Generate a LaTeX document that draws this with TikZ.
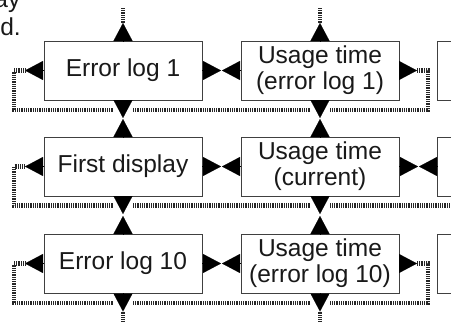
\documentclass[tikz,border=0pt]{standalone}
\usepackage{fontspec}
\setmainfont{Liberation Sans}
\usetikzlibrary{arrows.meta}
\begin{document}
\begin{tikzpicture}[x=1pt,y=-1pt,
  box/.style={draw=black!75, line width=0.9pt, fill=white, minimum width=158pt,
    minimum height=59pt, inner sep=0pt, align=center,
    font=\fontsize{24.5}{26}\selectfont, text=black!90},
  tri/.style={-{Triangle[length=18pt,width=19pt]}, line width=0.1pt, black},
  hatch/.style={line width=4.5pt, dash pattern=on 0.7pt off 1.1pt, black!85},
  frag/.style={anchor=base east, inner sep=0pt, font=\fontsize{24.5}{26}\selectfont, text=black!90}
]
\useasboundingbox (0,0) rectangle (451,324);

% text fragments
\node[frag] (t1) at (20.5,7) {ay};
\node[frag] (t2) at (21,35) {d.};

% boxes
\node[box] (e1)  at (123,70.5)  {Error log 1};
\node[box] (u1)  at (320,70.5)  {Usage time\\(error log 1)};
\node[box] (r1)  at (516,70.5)  {};
\node[box] (fd)  at (123,166.5) {First display};
\node[box] (uc)  at (320,166.5) {Usage time\\(current)};
\node[box] (r2)  at (516,166.5) {};
\node[box] (e10) at (123,263.5) {Error log 10};
\node[box] (u10) at (320,263.5) {Usage time\\(error log 10)};
\node[box] (r3)  at (516,263.5) {};

% arrow tip coordinates
\coordinate (e1N) at (123,23);   \coordinate (u1N) at (320,23);
\coordinate (e1W) at (25,70.5);  \coordinate (e1E) at (221,70.5);
\coordinate (u1W) at (222,70.5); \coordinate (u1E) at (417,70.5);
\coordinate (e1S) at (123,118);  \coordinate (u1S) at (320,118);
\coordinate (fdN) at (123,119);  \coordinate (ucN) at (320,119);
\coordinate (fdW) at (25,166.5); \coordinate (fdE) at (221,166.5);
\coordinate (ucW) at (222,166.5);\coordinate (ucE) at (418,166.5);
\coordinate (r2W) at (419,166.5);
\coordinate (fdS) at (123,214);  \coordinate (ucS) at (320,214);
\coordinate (e10N) at (123,216); \coordinate (u10N) at (320,216);
\coordinate (e10W) at (25,263.5);\coordinate (e10E) at (221,263.5);
\coordinate (u10W) at (222,263.5);\coordinate (u10E) at (417,263.5);
\coordinate (e10S) at (123,311.5);\coordinate (u10S) at (320,311.5);

% arrow triangles
\foreach \b/\t in {e1.north/e1N, u1.north/u1N, e1.west/e1W, e1.east/e1E,
  u1.west/u1W, u1.east/u1E, e1.south/e1S, u1.south/u1S, fd.north/fdN, uc.north/ucN,
  fd.west/fdW, fd.east/fdE, uc.west/ucW, uc.east/ucE, r2.west/r2W,
  fd.south/fdS, uc.south/ucS, e10.north/e10N, u10.north/u10N,
  e10.west/e10W, e10.east/e10E, u10.west/u10W, u10.east/u10E,
  e10.south/e10S, u10.south/u10S}
  \draw[tri] (\b) -- (\t);

% hatched connector coordinates
\coordinate (topA) at (123,7);  \coordinate (topB) at (320,7);
\coordinate (botA) at (123,322); \coordinate (botB) at (320,322);
\foreach \r/\y in {1/110, 2/205.5, 3/303}{
  \coordinate (cl\r) at (14,\y);
  \coordinate (ga\r) at (113,\y);
  \coordinate (gb\r) at (133,\y);
  \coordinate (gc\r) at (310,\y);
  \coordinate (gd\r) at (330,\y);
  \coordinate (cr\r) at (428,\y);
}
\coordinate (edge2) at (455,205.5);

% vertical ends
\draw[hatch] (e1N) -- (topA);
\draw[hatch] (u1N) -- (topB);
\draw[hatch] (e10S) -- (botA);
\draw[hatch] (u10S) -- (botB);

% row 1 loop
\draw[hatch] (u1E) -| (cr1) -- (gd1);
\draw[hatch] (gc1) -- (gb1);
\draw[hatch] (ga1) -- (cl1) |- (e1W);

% row 2
\draw[hatch] (edge2) -- (gd2);
\draw[hatch] (gc2) -- (gb2);
\draw[hatch] (ga2) -- (cl2) |- (fdW);

% row 3 loop
\draw[hatch] (u10E) -| (cr3) -- (gd3);
\draw[hatch] (gc3) -- (gb3);
\draw[hatch] (ga3) -- (cl3) |- (e10W);
\end{tikzpicture}
\end{document}
